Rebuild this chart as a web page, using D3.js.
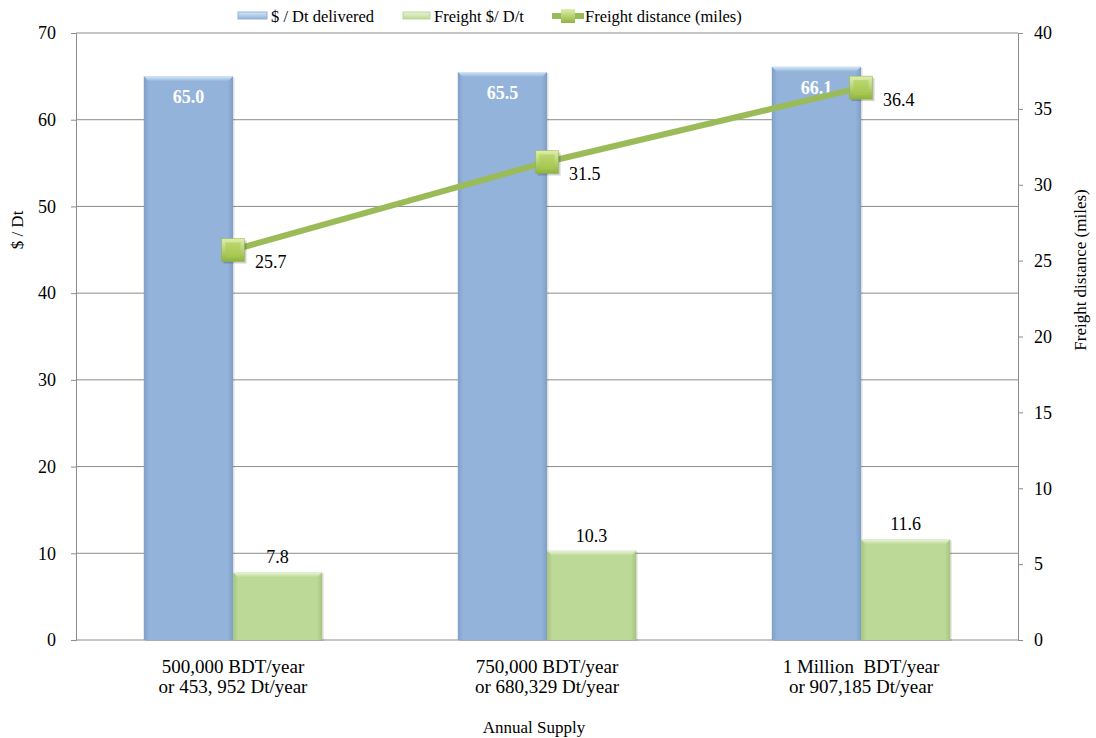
<!DOCTYPE html>
<html>
<head>
<meta charset="utf-8">
<script src="https://cdn.jsdelivr.net/npm/d3@7/dist/d3.min.js"></script>
<style>
  body { margin: 0; background: #fff; }
  svg text { font-family: "Liberation Serif", "Times New Roman", "DejaVu Serif", serif !important; }
</style>
</head>
<body>
<svg id="chart" width="1096" height="738"></svg>
<script>
// Annual supply scenarios
const categories = [
  ["500,000 BDT/year", "or 453, 952 Dt/year"],
  ["750,000 BDT/year", "or 680,329 Dt/year"],
  ["1 Million  BDT/year", "or 907,185 Dt/year"]
];
const deliveredCost = [65.0, 65.5, 66.1];   // $ / Dt delivered
const freightCost = [7.8, 10.3, 11.6];      // Freight $ / Dt
const freightMiles = [25.7, 31.5, 36.4];    // Freight distance (miles)
const leftTicks = [0, 10, 20, 30, 40, 50, 60, 70];
const rightTicks = [0, 5, 10, 15, 20, 25, 30, 35, 40];

const svg = d3.select("#chart");
const m = { left: 76, right: 1018, top: 33, bottom: 640 };
const TICK_FS = 18, LABEL_FS = 18, CAT_FS = 19, TITLE_FS = 17, LEGEND_FS = 16.5;

const x = d3.scaleBand().domain(d3.range(categories.length)).range([m.left, m.right]);
const xs = d3.scaleBand().domain([0, 1]).range([0, x.bandwidth()]).paddingOuter(0.76).paddingInner(0);
const yL = d3.scaleLinear().domain([0, 70]).range([m.bottom, m.top]);
const yR = d3.scaleLinear().domain([0, 40]).range([m.bottom, m.top]);

const defs = svg.append("defs");
function barGrad(id, mid, dark) {
  const g = defs.append("linearGradient").attr("id", id).attr("x1", 0).attr("x2", 1).attr("y1", 0).attr("y2", 0);
  g.append("stop").attr("offset", "0%").attr("stop-color", dark);
  g.append("stop").attr("offset", "6%").attr("stop-color", mid);
  g.append("stop").attr("offset", "94%").attr("stop-color", mid);
  g.append("stop").attr("offset", "100%").attr("stop-color", dark);
}
barGrad("blueBar", "#93b3da", "#7f9fc8");
barGrad("greenBar", "#bcd997", "#a6c47f");
const mg = defs.append("linearGradient").attr("id", "marker").attr("x1", 0).attr("x2", 0).attr("y1", 0).attr("y2", 1);
mg.append("stop").attr("offset", "0%").attr("stop-color", "#e0efad");
mg.append("stop").attr("offset", "100%").attr("stop-color", "#8fb43c");
const topBlue = defs.append("linearGradient").attr("id", "topBlue").attr("x1", 0).attr("x2", 0).attr("y1", 0).attr("y2", 1);
topBlue.append("stop").attr("offset", "0%").attr("stop-color", "#d5e6f8");
topBlue.append("stop").attr("offset", "100%").attr("stop-color", "#93b3da");
const topGreen = defs.append("linearGradient").attr("id", "topGreen").attr("x1", 0).attr("x2", 0).attr("y1", 0).attr("y2", 1);
topGreen.append("stop").attr("offset", "0%").attr("stop-color", "#e8f4d8");
topGreen.append("stop").attr("offset", "100%").attr("stop-color", "#bcd997");

// Gridlines
svg.append("g").selectAll("line").data(leftTicks.slice(1)).join("line")
  .attr("x1", m.left).attr("x2", m.right)
  .attr("y1", d => yL(d)).attr("y2", d => yL(d))
  .attr("stroke", "#8c8c8c").attr("stroke-width", 1);

// Left axis
const axL = svg.append("g").attr("transform", `translate(${m.left},0)`)
  .call(d3.axisLeft(yL).tickValues(leftTicks).tickSize(5).tickPadding(15));
axL.selectAll("path, line").attr("stroke", "#8c8c8c");
axL.selectAll("text").attr("font-size", TICK_FS).attr("fill", "#000");

// Right axis
const axR = svg.append("g").attr("transform", `translate(${m.right},0)`)
  .call(d3.axisRight(yR).tickValues(rightTicks).tickSize(5).tickPadding(11));
axR.selectAll("path, line").attr("stroke", "#8c8c8c");
axR.selectAll("text").attr("font-size", TICK_FS).attr("fill", "#000");

// Baseline
svg.append("line").attr("x1", m.left).attr("x2", m.right)
  .attr("y1", m.bottom).attr("y2", m.bottom).attr("stroke", "#8c8c8c");

// Bars
const groups = svg.append("g").selectAll("g").data(categories).join("g")
  .attr("transform", (d, i) => `translate(${x(i)},0)`);

function drawBars(values, idx, fill, topFill) {
  groups.each(function (d, i) {
    const g = d3.select(this);
    const x0 = xs(idx), w = xs.bandwidth(), y0 = yL(values[i]);
    g.append("rect").attr("x", x0 + 1.5).attr("y", y0 + 1).attr("width", w).attr("height", m.bottom - y0)
      .attr("fill", "#000").attr("opacity", 0.12);
    g.append("rect").attr("x", x0).attr("y", y0).attr("width", w).attr("height", m.bottom - y0)
      .attr("fill", `url(#${fill})`);
    g.append("polygon")
      .attr("points", `${x0},${y0} ${x0 + w},${y0} ${x0 + w - 5},${y0 + 5} ${x0 + 5},${y0 + 5}`)
      .attr("fill", `url(#${topFill})`);
  });
}
drawBars(deliveredCost, 0, "blueBar", "topBlue");
drawBars(freightCost, 1, "greenBar", "topGreen");

// Bar value labels
groups.append("text")
  .attr("x", xs(0) + xs.bandwidth() / 2)
  .attr("y", (d, i) => yL(deliveredCost[i]) + 27)
  .attr("text-anchor", "middle").attr("font-size", LABEL_FS).attr("font-weight", "bold")
  .attr("fill", "#fff").text((d, i) => deliveredCost[i].toFixed(1));
groups.append("text")
  .attr("x", xs(1) + xs.bandwidth() / 2)
  .attr("y", (d, i) => yL(freightCost[i]) - 9)
  .attr("text-anchor", "middle").attr("font-size", LABEL_FS)
  .attr("fill", "#000").text((d, i) => freightCost[i].toFixed(1));

// Freight distance line
const cx = i => x(i) + x.bandwidth() / 2;
svg.append("path")
  .datum(freightMiles)
  .attr("d", d3.line().x((d, i) => cx(i)).y(d => yR(d)))
  .attr("fill", "none").attr("stroke", "#9bbb59").attr("stroke-width", 6);

const ms = 23;
const marks = svg.append("g").selectAll("g").data(freightMiles).join("g")
  .attr("transform", (d, i) => `translate(${cx(i)},${yR(d)})`);
marks.append("rect").attr("x", -ms / 2 + 2).attr("y", -ms / 2 + 2).attr("width", ms).attr("height", ms)
  .attr("fill", "#000").attr("opacity", 0.18);
marks.append("rect").attr("x", -ms / 2).attr("y", -ms / 2).attr("width", ms).attr("height", ms)
  .attr("fill", "url(#marker)").attr("stroke", "#8fae4a").attr("stroke-width", 0.5);
marks.append("rect").attr("x", -ms / 2 + 4).attr("y", -ms / 2 + 4).attr("width", ms - 8).attr("height", ms - 8)
  .attr("fill", "#a9cb4c").attr("opacity", 0.55);
marks.append("text").attr("x", 22).attr("y", 18)
  .attr("font-size", LABEL_FS).attr("fill", "#000").text(d => d.toFixed(1));

// Category labels
const cl = svg.append("g").selectAll("text").data(categories).join("text")
  .attr("x", (d, i) => cx(i)).attr("y", 673)
  .attr("text-anchor", "middle").attr("font-size", CAT_FS).attr("fill", "#000")
  .style("white-space", "pre");
cl.append("tspan").attr("x", (d, i) => cx(i)).attr("dy", 0).text(d => d[0]);
cl.append("tspan").attr("x", (d, i) => cx(i)).attr("dy", 20).text(d => d[1]);

// Axis titles
svg.append("text").attr("x", 534).attr("y", 733).attr("text-anchor", "middle")
  .attr("font-size", TITLE_FS).text("Annual Supply");
svg.append("text").attr("transform", "translate(23,230) rotate(-90)").attr("text-anchor", "middle")
  .attr("font-size", TITLE_FS).text("$ / Dt");
svg.append("text").attr("transform", "translate(1086,270) rotate(-90)").attr("text-anchor", "middle")
  .attr("font-size", TITLE_FS).text("Freight distance (miles)");

// Legend
const legend = svg.append("g").attr("font-size", LEGEND_FS);
const l1 = legend.append("g").attr("transform", "translate(238,12)");
l1.append("rect").attr("width", 29).attr("height", 7).attr("fill", "url(#topBlue)").attr("stroke", "#93b3da");
l1.append("text").attr("x", 33).attr("y", 10).text("$ / Dt delivered");
const l2 = legend.append("g").attr("transform", "translate(403,12)");
l2.append("rect").attr("width", 27).attr("height", 7).attr("fill", "url(#topGreen)").attr("stroke", "#bcd997");
l2.append("text").attr("x", 31).attr("y", 10).text("Freight $/ D/t");
const l3 = legend.append("g").attr("transform", "translate(552,16)");
l3.append("line").attr("x1", 0).attr("x2", 32).attr("stroke", "#9bbb59").attr("stroke-width", 6);
l3.append("rect").attr("x", 9).attr("y", -7).attr("width", 14).attr("height", 14).attr("fill", "url(#marker)");
l3.append("text").attr("x", 33).attr("y", 6).text("Freight distance (miles)");
</script>
</body>
</html>
